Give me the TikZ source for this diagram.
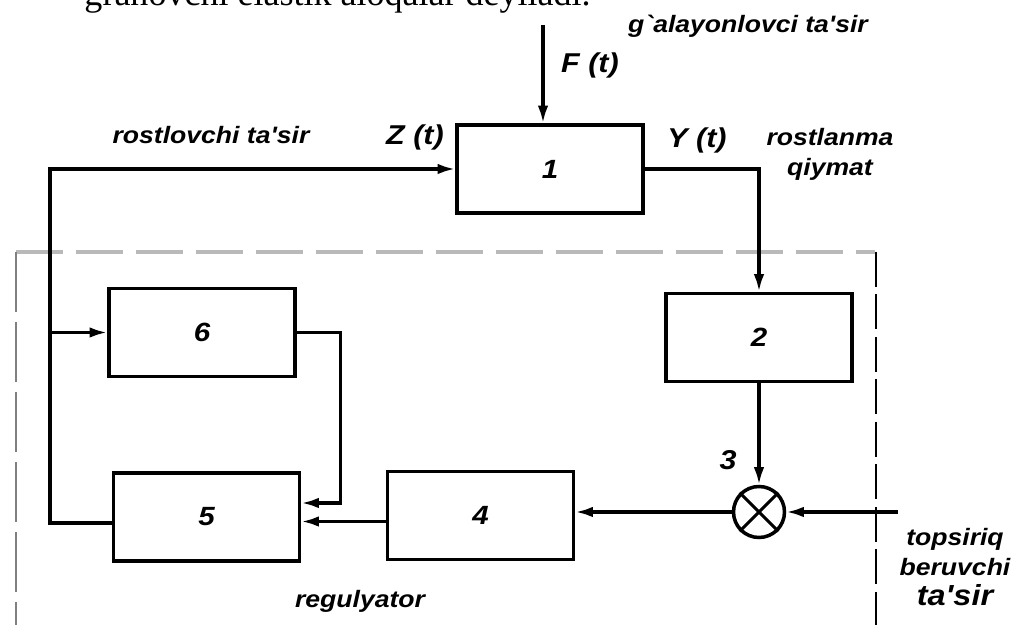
\documentclass[tikz,border=0pt]{standalone}
\usepackage{fontspec}
\setmainfont{Liberation Serif}
\newfontfamily\sansb{Liberation Sans}[FakeStretch=1.12, Ligatures=TeXOff]
\usetikzlibrary{arrows.meta}

\begin{document}
\begin{tikzpicture}[>={Latex[length=10pt,width=6pt]},
		blok/.style={draw, line width=2.1pt, minimum width=3.72cm, minimum height=1.76cm, inner sep=0pt, font=\sansb\bfseries\itshape\fontsize{15}{18}\selectfont},
		yozuv/.style={font=\sansb\bfseries\itshape\fontsize{13.5}{17}\selectfont, inner sep=1pt},
		belgi/.style={font=\sansb\bfseries\itshape\fontsize{15.5}{18}\selectfont, inner sep=1pt},
		chiziq/.style={line width=1.8pt}]
			\useasboundingbox (0,0) rectangle (20.26,12.5);
			% yuqoridagi kesilgan matn qatori
			\node[anchor=base east, inner sep=0pt, font=\fontsize{20.5}{25}\selectfont] (matn) at (11.82,12.38) {granovchi elastik aloqalar deyiladi.};
			% regulyator chegarasi
			\draw[gray!55, line width=2pt, dash pattern=on 0.94cm off 0.26cm] (0.32,7.46) -- (17.5,7.46);
			\draw[line width=0.8pt, dash pattern=on 0.7cm off 0.15cm] (17.52,7.46) -- (17.52,0);
			\draw[line width=0.8pt, gray, dash pattern=on 1.2cm off 0.2cm] (0.32,7.46) -- (0.32,0);
			% bloklar
			\node[blok] (k1) at (11.0,9.12) {1};
			\node[blok] (k2) at (15.18,5.75) {2};
			\node[blok] (k6) at (4.04,5.85) {6};
			\node[blok] (k5) at (4.13,2.16) {5};
			\node[blok] (k4) at (9.61,2.19) {4};
			\node[draw, circle, line width=2pt, minimum size=1.02cm, inner sep=0pt] (k3) at (15.18,2.26) {};
			\draw[chiziq] (k3.north west) -- (k3.south east) (k3.north east) -- (k3.south west);
			\coordinate (fkir) at (10.86,12.0);
			\coordinate (chap) at (1.0,9.12);
			\coordinate (topkir) at (17.96,2.26);
			% ulanishlar
			\draw[chiziq, ->] (fkir) -- (fkir |- k1.north);
			\draw[chiziq, ->] (k1.east) -| (k2.north);
			\draw[chiziq, ->] (k2.south) -- (k3.north);
			\draw[chiziq, ->] (topkir) -- (k3.east);
			\draw[chiziq, ->] (k3.west) -- (k3.west -| k4.east);
			\draw[chiziq, ->] ([yshift=-0.12cm]k4.west) -- ([yshift=-0.12cm]k4.west -| k5.east);
			\draw[chiziq, ->] ([yshift=-0.12cm]k5.west) -| (chap) -- (k1.west);
			\draw[chiziq, ->] (k6.west -| chap) -- (k6.west);
			\draw[chiziq, ->] (k6.east) -- ++(0.88,0) |- ([yshift=0.28cm]k5.east);
			% yozuvlar
			\node[yozuv] (rostl) at (4.22,9.8) {rostlovchi ta'sir};
			\node[belgi] (zt) at (8.3,9.76) {Z (t)};
			\node[belgi] (ft) at (11.8,11.2) {F (t)};
			\node[yozuv] (galay) at (14.96,11.98) {g`alayonlovci ta'sir};
			\node[belgi] (yt) at (13.94,9.7) {Y (t)};
			\node[yozuv, align=center] (rqiy) at (16.6,9.42) {rostlanma\\qiymat};
			\node[belgi] (uch) at (14.56,3.3) {3};
			\node[yozuv] (reg) at (7.2,0.48) {regulyator};
			\node[yozuv, align=center] (topsh) at (19.1,1.16) {topsiriq\\beruvchi\\{\fontsize{16.5}{17}\selectfont ta'sir}};
		\end{tikzpicture}
\end{document}
